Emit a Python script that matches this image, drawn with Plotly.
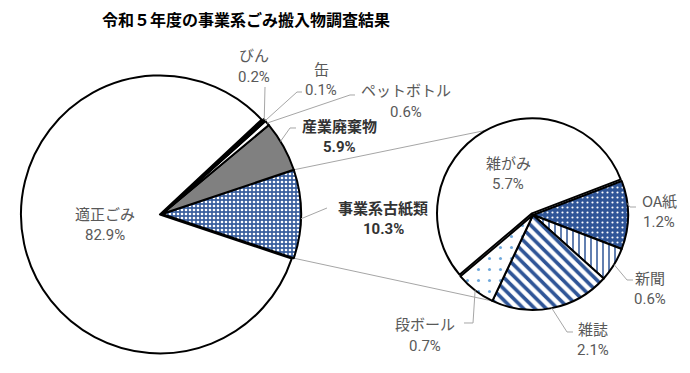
import math
import plotly.graph_objects as go

# ---------------- data ----------------
title_text = "令和５年度の事業系ごみ搬入物調査結果"

main_labels = ["事業系古紙類", "産業廃棄物", "ペットボトル", "缶", "びん", "適正ごみ"]
main_values = [10.3, 5.9, 0.6, 0.1, 0.2, 82.9]

sub_labels = ["OA紙", "新聞", "雑誌", "段ボール", "雑がみ"]
sub_values = [1.2, 0.6, 2.1, 0.7, 5.7]

# ---------------- layout constants (pixels) ----------------
W, H = 690, 373
MAIN_C = (162, 214)
MAIN_R = 139
MAIN_PULL = [0, 0, 0, 0, 0, 0.015]
SUB_C = (533, 215)
SUB_R = 95
SUB_PULL = [0, 0, 0, 0, 0.02]
FONT = "Noto Sans CJK JP"
NUM_FONT = "Roboto"
GREY_TXT = "#595959"
LEADER = "#A6A6A6"

main_start = -sum(main_values[:1]) / sum(main_values) * 180.0  # centre the "other" slice on 3 o'clock
sub_start = 21.0


def px(x, y):
    return x / W, 1 - y / H


def domain_for(c, r, pull):
    half = r * (1 + max(pull))
    x0, y0 = px(c[0] - half, c[1] + half)
    x1, y1 = px(c[0] + half, c[1] - half)
    return dict(x=[x0, x1], y=[y0, y1])


def slice_angles(values, start, ccw):
    tot = sum(values)
    out = []
    a = start
    for v in values:
        span = v / tot * 360.0
        b = a + span if ccw else a - span
        out.append((a, b))
        a = b
    return out


def edge_point(c, r, ang):
    return c[0] + r * math.cos(math.radians(ang)), c[1] - r * math.sin(math.radians(ang))


main_ang = slice_angles(main_values, main_start, True)
sub_ang = slice_angles(sub_values, sub_start, False)

fig = go.Figure()

# counterclockwise pies in plotly place the first slice clockwise of `rotation`
main_rotation = 90 + main_start

fig.add_trace(go.Pie(
    labels=main_labels, values=main_values, sort=False,
    direction="counterclockwise", rotation=main_rotation,
    domain=domain_for(MAIN_C, MAIN_R, MAIN_PULL),
    pull=MAIN_PULL, textinfo="none", hoverinfo="label+percent",
    marker=dict(
        colors=["#2F5597", "#808080", "#FFFFFF", "#000000", "#000000", "#FFFFFF"],
        line=dict(color="#000000", width=2),
        pattern=dict(
            shape=[".", "", "", "", "", ""],
            fgcolor=["#FFFFFF"] * 6,
            bgcolor=["#3A5F9E", "#808080", "#FFFFFF", "#000000", "#000000", "#FFFFFF"],
            size=[4, 8, 8, 8, 8, 8],
            solidity=[0.35, 0.3, 0.3, 0.3, 0.3, 0.3],
        ),
    ),
    showlegend=False,
))

fig.add_trace(go.Pie(
    labels=sub_labels, values=sub_values, sort=False,
    direction="clockwise", rotation=90 - sub_start,
    domain=domain_for(SUB_C, SUB_R, SUB_PULL),
    pull=SUB_PULL, textinfo="none", hoverinfo="label+value",
    marker=dict(
        colors=["#2F5597", "#FFFFFF", "#FFFFFF", "#FFFFFF", "#FFFFFF"],
        line=dict(color="#000000", width=2),
        pattern=dict(
            shape=[".", "|", "\\", ".", ""],
            fgcolor=["#FFFFFF", "#2F5597", "#2F5597", "#6FA8DC", "#FFFFFF"],
            bgcolor=["#2F5597", "#FFFFFF", "#FFFFFF", "#FFFFFF", "#FFFFFF"],
            size=[5, 6, 8, 11, 8],
            solidity=[0.15, 0.25, 0.45, 0.06, 0.3],
        ),
    ),
    showlegend=False,
))

shapes = []


def polyline(points, color=LEADER, width=1, layer="above"):
    d = ""
    for i, (x, y) in enumerate(points):
        X, Y = px(x, y)
        d += ("M" if i == 0 else "L") + f"{X:.5f},{Y:.5f} "
    shapes.append(dict(type="path", path=d.strip(), xref="paper", yref="paper",
                       line=dict(color=color, width=width), layer=layer))


# connector lines between the two pies
other = main_ang[0]
p_top_main = edge_point(MAIN_C, MAIN_R, other[1])
p_bot_main = edge_point(MAIN_C, MAIN_R, other[0])
p_top_sub = edge_point(SUB_C, SUB_R, 115)
p_bot_sub = edge_point(SUB_C, SUB_R, -115)
polyline([p_top_main, p_top_sub], layer="below")
polyline([p_bot_main, p_bot_sub], layer="below")


def mid(a):
    return (a[0] + a[1]) / 2


# leader lines (start on slice edge)
m = {l: a for l, a in zip(main_labels, main_ang)}
s = {l: a for l, a in zip(sub_labels, sub_ang)}
polyline([edge_point(MAIN_C, MAIN_R, mid(m["びん"])), (265, 87)])
polyline([edge_point(MAIN_C, MAIN_R, mid(m["缶"])), (297, 92), (302, 92)])
polyline([edge_point(MAIN_C, MAIN_R, mid(m["ペットボトル"])), (350, 95), (355, 95)])
polyline([edge_point(MAIN_C, MAIN_R, 31.5), (290, 128), (296, 128)])
polyline([edge_point(MAIN_C, MAIN_R, mid(m["事業系古紙類"]) - 2), (327, 208)])
polyline([edge_point(SUB_C, SUB_R, 7), (630, 207), (636, 207)])
polyline([edge_point(SUB_C, SUB_R, mid(s["新聞"])), (627, 280), (633, 280)])
polyline([edge_point(SUB_C, SUB_R, mid(s["雑誌"])), (567, 332), (573, 332)])
polyline([edge_point(SUB_C, SUB_R, mid(s["段ボール"])), (473, 323), (464, 323)])

fig.update_layout(shapes=shapes)

# ---------------- labels ----------------
label_pos = {
    "びん": (254, 55, 77),
    "缶": (321, 68, 90),
    "ペットボトル": (406, 90, 112),
    "産業廃棄物": (339, 125, 147),
    "事業系古紙類": (383, 207, 229),
    "適正ごみ": (105, 213, 235),
    "雑がみ": (508, 162, 184),
    "OA紙": (659, 200, 222),
    "新聞": (650, 277, 299),
    "雑誌": (593, 328, 350),
    "段ボール": (425, 323, 346),
}
bold = {"産業廃棄物", "事業系古紙類"}

annotations = []
all_labels = list(zip(main_labels, main_values)) + list(zip(sub_labels, sub_values))
for lab, val in all_labels:
    x, y1, y2 = label_pos[lab]
    is_b = lab in bold
    col = "#333333" if is_b else GREY_TXT
    for txt, yy, fam, sz in ((lab, y1, FONT, 15), (f"{val:.1f}%", y2, NUM_FONT, 15)):
        X, Y = px(x, yy)
        annotations.append(dict(
            text=(f"<b>{txt}</b>" if is_b else txt), x=X, y=Y, xref="paper", yref="paper",
            showarrow=False, xanchor="center", yanchor="middle",
            font=dict(family=fam, size=sz, color=col),
        ))

tx, ty = px(246, 19)
annotations.append(dict(
    text=f"<b>{title_text}</b>", x=tx, y=ty, xref="paper", yref="paper",
    showarrow=False, xanchor="center", yanchor="middle",
    font=dict(family=FONT, size=16, color="#000000"),
))

fig.update_layout(
    width=W, height=H, margin=dict(l=0, r=0, t=0, b=0),
    paper_bgcolor="white", plot_bgcolor="white",
    annotations=annotations,
)

fig.write_html("out.html", config={"displayModeBar": False},
               post_script="document.body.style.margin='0px';")
